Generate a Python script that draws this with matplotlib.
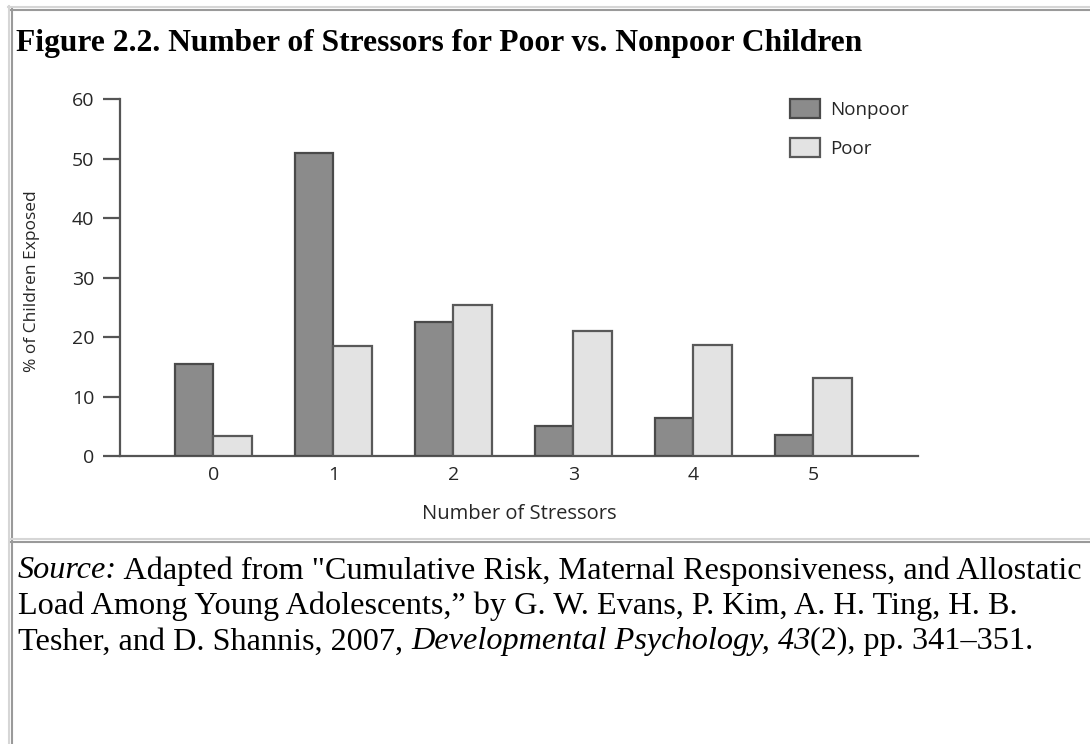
import matplotlib
matplotlib.use("Agg")
import numpy as np
import matplotlib.pyplot as plt
from matplotlib.lines import Line2D

# data: % of children exposed to each number of stressors
stressors = ["0", "1", "2", "3", "4", "5"]
nonpoor = [15.6, 51.0, 22.6, 5.2, 6.5, 3.6]
poor = [3.5, 18.6, 25.4, 21.0, 18.7, 13.2]
series_names = ["Nonpoor", "Poor"]
y_ticks = [0, 10, 20, 30, 40, 50, 60]

title = "Figure 2.2. Number of Stressors for Poor vs. Nonpoor Children"
source_lines = [
    [("Source:", "italic"),
     (" Adapted from \"Cumulative Risk, Maternal Responsiveness, and Allostatic", "normal")],
    [("Load Among Young Adolescents,\u201d by G. W. Evans, P. Kim, A. H. Ting, H. B.", "normal")],
    [("Tesher, and D. Shannis, 2007, ", "normal"),
     ("Developmental Psychology, 43", "italic"),
     ("(2), pp. 341\u2013351.", "normal")],
]

W, H = 1090, 744
fig = plt.figure(figsize=(W / 100, H / 100), dpi=100)
fig.patch.set_facecolor("white")


def px(x, y):
    # pixel position (from top-left) -> figure fraction
    return x / W, 1 - y / H


# table-style frame around the figure and caption cells
frame = fig.add_axes([0, 0, 1, 1])
frame.set_xlim(0, W)
frame.set_ylim(H, 0)
frame.axis("off")
frame.add_line(Line2D([8, W], [6.5, 6.5], color="#d6d6d6", lw=1.5))
frame.add_line(Line2D([8.5, 8.5], [6, H], color="#d6d6d6", lw=1.5))
frame.add_line(Line2D([11, W], [9.5, 9.5], color="#9a9a9a", lw=1.5))
frame.add_line(Line2D([12, 12], [9, 537], color="#9a9a9a", lw=1.5))
frame.add_line(Line2D([11, W], [538.5, 538.5], color="#d6d6d6", lw=1.5))
frame.add_line(Line2D([11, W], [541.5, 541.5], color="#9a9a9a", lw=1.5))
frame.add_line(Line2D([12, 12], [541, H], color="#9a9a9a", lw=1.5))

serif = "Liberation Serif"
sans = "Open Sans"
ink = "#262626"

fig.text(*px(16, 51), title, fontsize=22.7, fontweight="bold",
         family=serif, va="baseline", ha="left")

# caption lines, runs placed one after another
fig.canvas.draw()
renderer = fig.canvas.get_renderer()
baselines = [578.5, 614, 649.5]
for runs, base in zip(source_lines, baselines):
    x = 18
    for text, style in runs:
        t = fig.text(*px(x, base), text, fontsize=23.2, family=serif,
                     style=style, va="baseline", ha="left")
        bb = t.get_window_extent(renderer=renderer)
        x = bb.x1

# bar chart
left, right, top, bottom = 120, 918, 99.3, 456.5
ax = fig.add_axes([left / W, 1 - bottom / H, (right - left) / W, (bottom - top) / H])
x = np.arange(len(stressors))
bw = 0.32
ax.bar(x - bw / 2, nonpoor, bw, color="#8b8b8b", edgecolor="#4a4a4a",
       linewidth=1.6, label=series_names[0], zorder=3)
ax.bar(x + bw / 2, poor, bw, color="#e3e3e3", edgecolor="#595959",
       linewidth=1.6, label=series_names[1], zorder=3)

ax.set_xlim(-0.7775, 5.8725)
ax.set_ylim(0, 60)
ax.set_yticks(y_ticks)
ax.set_xticks(x)
ax.set_xticklabels(stressors)
for side in ["top", "right"]:
    ax.spines[side].set_visible(False)
for side in ["left", "bottom"]:
    ax.spines[side].set_color("#555555")
    ax.spines[side].set_linewidth(1.6)
ax.tick_params(axis="y", direction="out", length=12.5, width=1.6,
               color="#555555", pad=6, labelsize=14, labelcolor=ink)
ax.tick_params(axis="x", length=0, pad=7, labelsize=14, labelcolor=ink)
for lab in ax.get_xticklabels() + ax.get_yticklabels():
    lab.set_family(sans)

ax.set_xlabel("Number of Stressors", family=sans, fontsize=14.5, color=ink)
ax.xaxis.set_label_coords(0.5, -0.133)
ax.set_ylabel("% of Children Exposed", family=sans, fontsize=12.5, color=ink)
ax.yaxis.set_label_coords(-0.1, 0.49)

leg = ax.legend(loc="upper left", bbox_to_anchor=px(790, 99),
                bbox_transform=fig.transFigure, frameon=False,
                prop={"family": sans, "size": 13.5},
                handlelength=1.6, handleheight=1.2, handletextpad=0.55,
                labelspacing=1.0, borderpad=0, borderaxespad=0)
for txt in leg.get_texts():
    txt.set_color(ink)

fig.savefig("out.png", dpi=100)
